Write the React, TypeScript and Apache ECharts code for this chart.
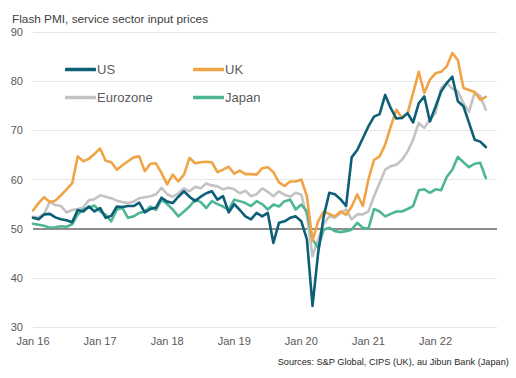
import React, { useEffect, useRef } from "react";
import * as echarts from "echarts";

const monthNames = ["Jan", "Feb", "Mar", "Apr", "May", "Jun", "Jul", "Aug", "Sep", "Oct", "Nov", "Dec"];
const years = ["16", "17", "18", "19", "20", "21", "22"];
const categories: string[] = [];
years.forEach((y) => monthNames.forEach((m) => categories.push(`${m} ${y}`)));

const yTicks = [30, 40, 50, 60, 70, 80, 90];

const us = [
  52.2, 51.9, 52.9, 53.0, 52.3, 51.9, 51.7, 51.3, 53.8, 53.5, 54.5, 53.5,
  54.2, 52.2, 52.6, 54.5, 54.4, 54.6, 54.6, 55.3, 53.3, 54.0, 54.3, 56.3,
  55.5, 55.2, 56.5, 57.6, 56.5, 55.6, 56.5, 57.2, 57.6, 55.9, 56.6, 53.3,
  55.0, 53.8, 52.5, 51.9, 53.2, 52.5, 53.2, 47.1, 51.2, 51.5, 52.2, 52.5,
  51.5, 47.8, 34.3, 45.0, 52.5, 57.3, 57.0, 56.0, 54.6, 64.5, 66.0, 68.4,
  70.8, 72.8, 73.3, 77.2, 74.5, 72.4, 72.5, 73.5, 71.6, 75.5, 76.9, 71.8,
  74.8, 77.9, 79.6, 80.9, 75.9, 74.9, 71.5, 68.1, 67.7, 66.6,
];
const uk = [
  53.7, 55.2, 56.4, 55.4, 55.7, 56.8, 58.0, 59.2, 64.7, 63.7, 64.2, 65.2,
  66.3, 63.8, 63.5, 62.0, 62.9, 63.7, 64.5, 64.7, 61.7, 63.2, 63.3, 61.3,
  59.0, 61.0, 59.6, 61.0, 64.4, 63.3, 63.5, 63.6, 63.5, 61.5, 62.0, 62.6,
  61.2, 61.8, 61.1, 61.1, 61.0, 62.3, 62.5, 61.5, 59.4, 58.7, 59.6, 59.6,
  60.0, 56.6, 47.5, 51.5, 53.5, 53.0, 52.5, 53.5, 52.8, 54.5, 57.0, 54.6,
  60.0, 64.0, 64.7, 67.1, 70.8, 74.2, 72.5, 73.5, 77.6, 81.9, 77.6, 80.3,
  81.6, 81.9, 83.0, 85.7, 84.3, 78.6, 78.2, 77.8, 76.2, 76.8,
];
const eurozone = [
  52.4, 52.3, 53.0, 55.5, 54.8, 54.6, 53.3, 53.8, 54.0, 54.3, 55.8, 56.0,
  56.8, 56.5, 56.2, 55.7, 55.4, 55.2, 55.5, 56.2, 56.4, 56.6, 57.0, 58.3,
  57.0, 56.5, 57.2, 58.2, 57.6, 58.5, 58.2, 59.2, 58.8, 58.6, 58.0, 58.3,
  58.0, 57.2, 57.7, 56.6, 57.0, 58.2, 57.5, 56.6, 57.6, 56.9, 56.5, 57.3,
  56.9, 52.5, 44.4, 47.8, 51.0, 52.5, 52.2, 53.2, 53.9, 51.9, 52.9, 52.9,
  53.5, 56.6, 59.3, 62.0, 62.7, 63.0, 64.0, 65.7, 68.1, 71.5, 70.5, 72.2,
  73.5, 78.6, 79.6, 78.5, 77.9, 75.5, 73.8, 77.6, 77.0, 74.2,
];
const japan = [
  51.0, 50.8, 50.6, 50.2, 50.3, 50.5, 50.4, 50.9, 52.9, 53.9, 54.3, 54.7,
  53.5, 52.8, 51.5, 53.9, 54.2, 52.2, 52.5, 53.2, 53.5, 54.5, 53.8, 55.9,
  55.0, 53.9, 52.5, 53.5, 54.5, 55.9, 55.4, 54.2, 55.6, 55.0, 54.5, 53.8,
  55.9, 55.6, 55.2, 54.6, 55.6, 55.0, 53.9, 54.9, 54.5, 55.6, 55.9, 53.9,
  54.9, 53.5, 47.8, 46.1, 49.8, 50.2, 49.5, 49.3, 49.5, 49.8, 51.2, 50.2,
  50.0, 54.0, 53.5, 52.5, 53.0, 53.5, 53.5, 54.0, 54.6, 57.8, 58.0, 57.3,
  58.0, 57.8, 60.5, 62.0, 64.6, 63.5, 62.5, 63.2, 63.4, 60.3,
];

const COLORS = { US: "#0d5f78", UK: "#f0a446", Eurozone: "#c3c3c3", Japan: "#4fb597" };
const FONT = "Liberation Sans, Arial, sans-serif";

export default function App() {
  const ref = useRef<HTMLDivElement>(null);
  useEffect(() => {
    if (!ref.current) return;
    const chart = echarts.init(ref.current, undefined, { renderer: "svg" });
    const mk = (name: string, data: number[], z: number, extra: any = {}) => ({
      name,
      type: "line",
      data,
      symbol: "none",
      z,
      lineStyle: { color: (COLORS as any)[name], width: 2.6, join: "round", cap: "round" },
      itemStyle: { color: (COLORS as any)[name] },
      ...extra,
    });
    const legendCommon = {
      orient: "vertical",
      top: 58,
      itemWidth: 31,
      itemHeight: 3.5,
      itemGap: 15,
      icon: "roundRect",
      textStyle: { color: "#5a5a5a", fontSize: 13, fontFamily: FONT, padding: [0, 0, 0, -4] },
    };
    chart.setOption({
      animation: false,
      title: {
        text: "Flash PMI, service sector input prices",
        left: 7,
        top: 8,
        textStyle: { color: "#404040", fontSize: 11.8, fontWeight: "normal", fontFamily: FONT },
      },
      legend: [
        { ...legendCommon, left: 60, data: ["US", "Eurozone"] },
        { ...legendCommon, left: 188, data: ["UK", "Japan"] },
      ],
      grid: { left: 33, right: 19, top: 32, bottom: 51 },
      xAxis: {
        type: "category",
        data: categories,
        boundaryGap: false,
        axisLine: { show: false },
        axisTick: { show: false },
        splitLine: { show: false },
        axisLabel: {
          interval: (i: number) => i % 12 === 0,
          color: "#595959",
          fontSize: 11,
          fontFamily: FONT,
          margin: 8,
        },
      },
      yAxis: {
        type: "value",
        min: yTicks[0],
        max: yTicks[yTicks.length - 1],
        interval: 10,
        axisLine: { show: false },
        axisTick: { show: false },
        axisLabel: { color: "#595959", fontSize: 11, fontFamily: FONT, margin: 10 },
        splitLine: { lineStyle: { color: "#e6e6e6", width: 1 } },
      },
      series: [
        mk("Eurozone", eurozone, 2, {
          markLine: {
            silent: true,
            symbol: "none",
            label: { show: false },
            lineStyle: { color: "#6b6b6b", width: 1.5, type: "solid" },
            data: [{ yAxis: 50 }],
            z: 1,
          },
        }),
        mk("Japan", japan, 3),
        mk("UK", uk, 4),
        mk("US", us, 5),
      ],
      graphic: [
        {
          type: "text",
          right: 7,
          top: 357,
          style: {
            text: "Sources: S&P Global, CIPS (UK), au Jibun Bank (Japan)",
            fill: "#262626",
            fontSize: 9.2,
            fontFamily: FONT,
          },
        },
      ],
    });
    return () => chart.dispose();
  }, []);
  return (
    <div
      ref={ref}
      style={{ position: "fixed", left: 0, top: 0, width: 516, height: 378, background: "#fff" }}
    />
  );
}
